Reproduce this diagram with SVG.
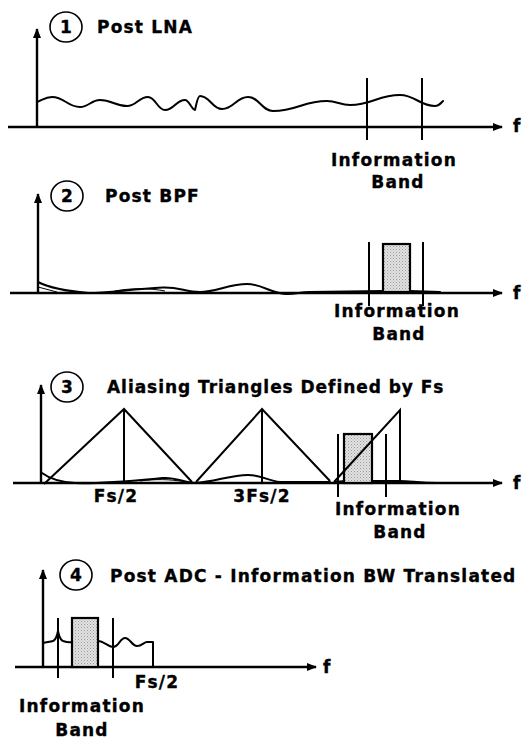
<svg xmlns="http://www.w3.org/2000/svg" width="526" height="740" viewBox="0 0 526 740">
<defs>
<marker id="ah" viewBox="0 0 10 8" refX="9" refY="4" markerWidth="10" markerHeight="8" markerUnits="userSpaceOnUse" orient="auto"><path d="M0,0 L10,4 L0,8 Z" fill="#000"/></marker>
<pattern id="dots" width="3" height="3" patternUnits="userSpaceOnUse"><rect width="3" height="3" fill="#e2e2e2"/><rect x="0" y="0" width="1" height="1" fill="#9a9a9a"/><rect x="1.5" y="1.5" width="1" height="1" fill="#b0b0b0"/></pattern>
</defs>
<style>
.ax{fill:none;stroke:#000;stroke-width:2.4;marker-end:url(#ah)}
.cv{fill:none;stroke:#000;stroke-width:2;stroke-linejoin:round;stroke-linecap:round}
.thin{fill:none;stroke:#000;stroke-width:1}
.ln{fill:none;stroke:#000;stroke-width:2}
.box{fill:url(#dots);stroke:#000;stroke-width:2.2}
.num{fill:none;stroke:#000;stroke-width:1.6}
text{font-family:"DejaVu Sans","Verdana",sans-serif;font-weight:bold;font-size:17px;letter-spacing:1.2px;fill:#000;stroke:#000;stroke-width:0.35px}
.c{text-anchor:middle}
.n{text-anchor:middle;letter-spacing:0}
.t3{letter-spacing:0.95px}
</style>
<rect width="526" height="740" fill="#fff"/>

<g id="panel1">
<path class="ax" d="M37,127 V29"/>
<path class="ax" d="M8,127 H502"/>
<ellipse class="num" cx="66" cy="27" rx="16" ry="15"/>
<text class="n" x="66" y="33">1</text>
<text x="97" y="33">Post LNA</text>
<path class="cv" d="M37,102 C44,99 46,97 52,97 C64.6,97 67.4,107 80,107 C89,107 91,100 100,100 C112,100 115,106 127,106 C136.5,106 138.5,97 148,97 C155.6,97 157.4,110 165,110 C174,110 176,100 185,100 C189,100 192,110 195,110 C196.5,104 197.5,96 200,96 C210,96 212,109 222,109 C233.7,109 236.3,97 248,97 C259,97 262,111 273,111 C297,111 303,101 327,101 C337,101 340,105 350,105 C372,105 378,95 400,95 C415,95 420,106 435,106 C439,106 441,103 443,101"/>
<path class="ln" d="M367,78 V140 M422,78 V140"/>
<text x="513" y="132">f</text>
<text class="c" x="394" y="166">Information</text>
<text class="c" x="398" y="188">Band</text>
</g>

<g id="panel2">
<path class="ax" d="M38,293 V194"/>
<path class="ax" d="M10,293 H502"/>
<ellipse class="num" cx="67" cy="196" rx="16" ry="15"/>
<text class="n" x="67" y="202">2</text>
<text x="105" y="202">Post BPF</text>
<path class="cv" d="M38,282 C50,288 65,291 88,293 C110,293 130,289 163,287.5 C180,287 185,292 200,292 C215,292 230,284 247,284 C262,284 272,294 287,294 C297,294 300,292 310,292 L383,291 M410,291 L440,292"/>
<path class="thin" d="M38,287 L57,292 M115,291 C130,288 150,288 165,291"/>
<rect class="box" x="383" y="244" width="27" height="48"/>
<path class="ln" d="M369,242 V306 M423,242 V306"/>
<text x="513" y="299">f</text>
<text class="c" x="397" y="317">Information</text>
<text class="c" x="399" y="340">Band</text>
</g>

<g id="panel3">
<path class="ax" d="M41,483 V385"/>
<path class="ax" d="M13,483 H502"/>
<ellipse class="num" cx="67" cy="387" rx="16" ry="15"/>
<text class="n" x="67" y="393">3</text>
<text class="t3" x="107" y="393">Aliasing Triangles Defined by Fs</text>
<path class="cv" d="M42,473 C50,479 60,482 75,483 C100,484 130,481 163,478 C175,477 183,482 195,483 C215,482 230,475 248,475 C262,475 268,481 280,482 L330,482 M335,482 L345,481 M372,481 L400,481 C410,481 420,483 437,483"/>
<path class="thin" d="M140,481 C155,479 170,479 185,482"/>
<rect class="box" x="344" y="434" width="28" height="49"/>
<path class="ln" d="M44,484 L124,409 L192,482 M124,409 V483 M196,482 L262,409 L330,481 M262,409 V483 M334,482 L400,410 V483"/>
<path class="ln" d="M338,434 V497 M386,434 V497"/>
<text x="513" y="489">f</text>
<text class="c" x="116" y="502">Fs/2</text>
<text class="c" x="262" y="502">3Fs/2</text>
<text class="c" x="398" y="515">Information</text>
<text class="c" x="400" y="538">Band</text>
</g>

<g id="panel4">
<path class="ax" d="M43,667 V570"/>
<path class="ax" d="M15,667 H316"/>
<ellipse class="num" cx="76" cy="575" rx="16" ry="15"/>
<text class="n" x="76" y="581">4</text>
<text x="110" y="582">Post ADC - Information BW Translated</text>
<path class="cv" d="M43,643 C47,642 50,642 53,641 C56,640 57,636 58,631 C59,636 60,640 63,641 C66,642 69,643 72,642 M98,641 C104,641 108,647 113,647 C119,647 120,638 125,638 C130,638 132,646 137,646 C142,646 144,642 147,642 L153,642 V667"/>
<rect class="box" x="72" y="618" width="26" height="49"/>
<path class="ln" d="M58,618 V678 M113,618 V678"/>
<text x="323" y="673">f</text>
<text class="c" x="157" y="688">Fs/2</text>
<text class="c" x="82" y="712">Information</text>
<text class="c" x="82" y="736">Band</text>
</g>
</svg>
